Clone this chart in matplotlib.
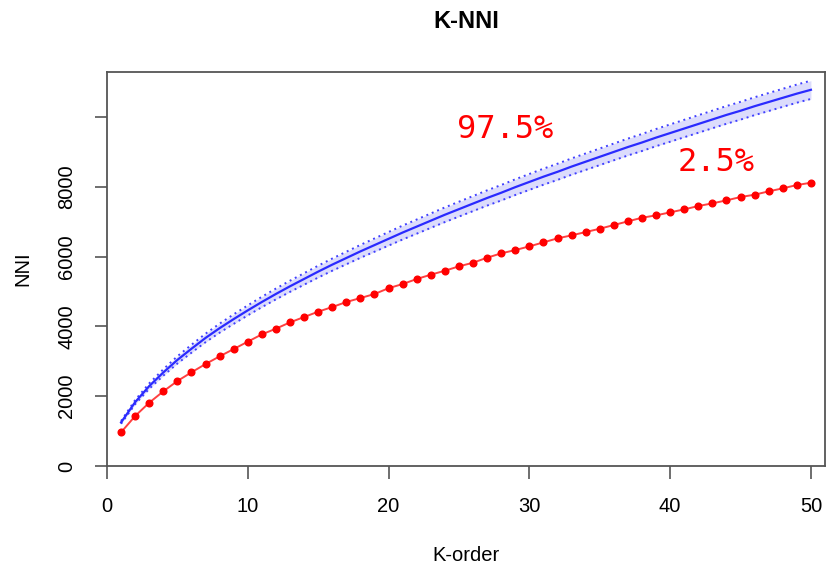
import numpy as np
import matplotlib
matplotlib.use('Agg')
from matplotlib import pyplot as plt

k = list(range(1, 51))

# observed NNI (red points)
nni_obs = [966, 1433, 1814, 2139, 2435, 2684, 2922, 3142, 3352, 3562,
           3772, 3935, 4116, 4269, 4422, 4555, 4699, 4813, 4928, 5095,
           5214, 5358, 5482, 5596, 5721, 5825, 5969, 6093, 6188, 6293,
           6408, 6523, 6609, 6704, 6799, 6905, 7010, 7114, 7182, 7268,
           7354, 7449, 7526, 7612, 7707, 7774, 7870, 7956, 8051, 8117]

# simulated mean (blue line)
nni_mean = [1250, 1830, 2290, 2680, 3040, 3360, 3670, 3950, 4210, 4460,
            4700, 4930, 5150, 5360, 5570, 5770, 5960, 6150, 6330, 6510,
            6690, 6860, 7030, 7200, 7360, 7520, 7680, 7830, 7990, 8140,
            8290, 8430, 8580, 8720, 8860, 9000, 9140, 9270, 9410, 9540,
            9670, 9800, 9930, 10060, 10180, 10310, 10430, 10550, 10670, 10780]

# half width of the 2.5% - 97.5% envelope
band = [40, 60, 78, 92, 104, 114, 122, 130, 137, 143,
        149, 155, 160, 165, 170, 175, 180, 185, 190, 195,
        199, 203, 207, 210, 213, 216, 219, 222, 225, 228,
        230, 232, 234, 236, 238, 240, 242, 244, 246, 248,
        250, 251, 252, 254, 255, 256, 258, 259, 260, 262]

yticks = [0, 2000, 4000, 6000, 8000, 10000]
ylabels = ['0', '2000', '4000', '6000', '8000', '']
xticks = [0, 10, 20, 30, 40, 50]

hi = np.array(nni_mean) + np.array(band)
lo = np.array(nni_mean) - np.array(band)

plt.rcParams['font.family'] = ['Liberation Sans', 'DejaVu Sans']

fig = plt.figure(figsize=(8.33, 5.70), dpi=100)
ax = fig.add_axes([107 / 833, 1 - 466 / 570, (825 - 107) / 833, (466 - 72) / 570])

ax.fill_between(k, lo, hi, color='#dcdcfc', lw=0)
ax.plot(k, hi, color='#4040ff', lw=1.4, ls=(0, (1, 2)))
ax.plot(k, lo, color='#4040ff', lw=1.4, ls=(0, (1, 2)))
ax.plot(k, nni_mean, color='#2a2aff', lw=1.6)
ax.plot(k, nni_obs, color='#ff4040', lw=1.4, marker='o', markersize=4.8,
        markerfacecolor='red', markeredgecolor='red')

ax.text(28.27, 9656, '97.5%', color='red', fontsize=23, family='DejaVu Sans Mono',
        ha='center', va='center')
ax.text(43.3, 8711, '2.5%', color='red', fontsize=23, family='DejaVu Sans Mono',
        ha='center', va='center')

ax.set_xlim(0, 51)
ax.set_ylim(0, 11290)
ax.set_xticks(xticks)
ax.set_xticklabels([str(t) for t in xticks])
ax.set_yticks(yticks)
ax.set_yticklabels(ylabels, rotation=90, va='center')

for s in ax.spines.values():
    s.set_color('#555555')
    s.set_linewidth(1.3)
ax.tick_params(length=9, width=1.2, color='#555555', labelsize=14.5, pad=13)

ax.set_xlabel('K-order', fontsize=14.5, labelpad=22)
ax.set_ylabel('NNI', fontsize=14.5, labelpad=18)
fig.suptitle('K-NNI', fontsize=17, fontweight='bold', x=466 / 833, y=1 - 22 / 570, va='center')

fig.savefig('out.png', dpi=100)
